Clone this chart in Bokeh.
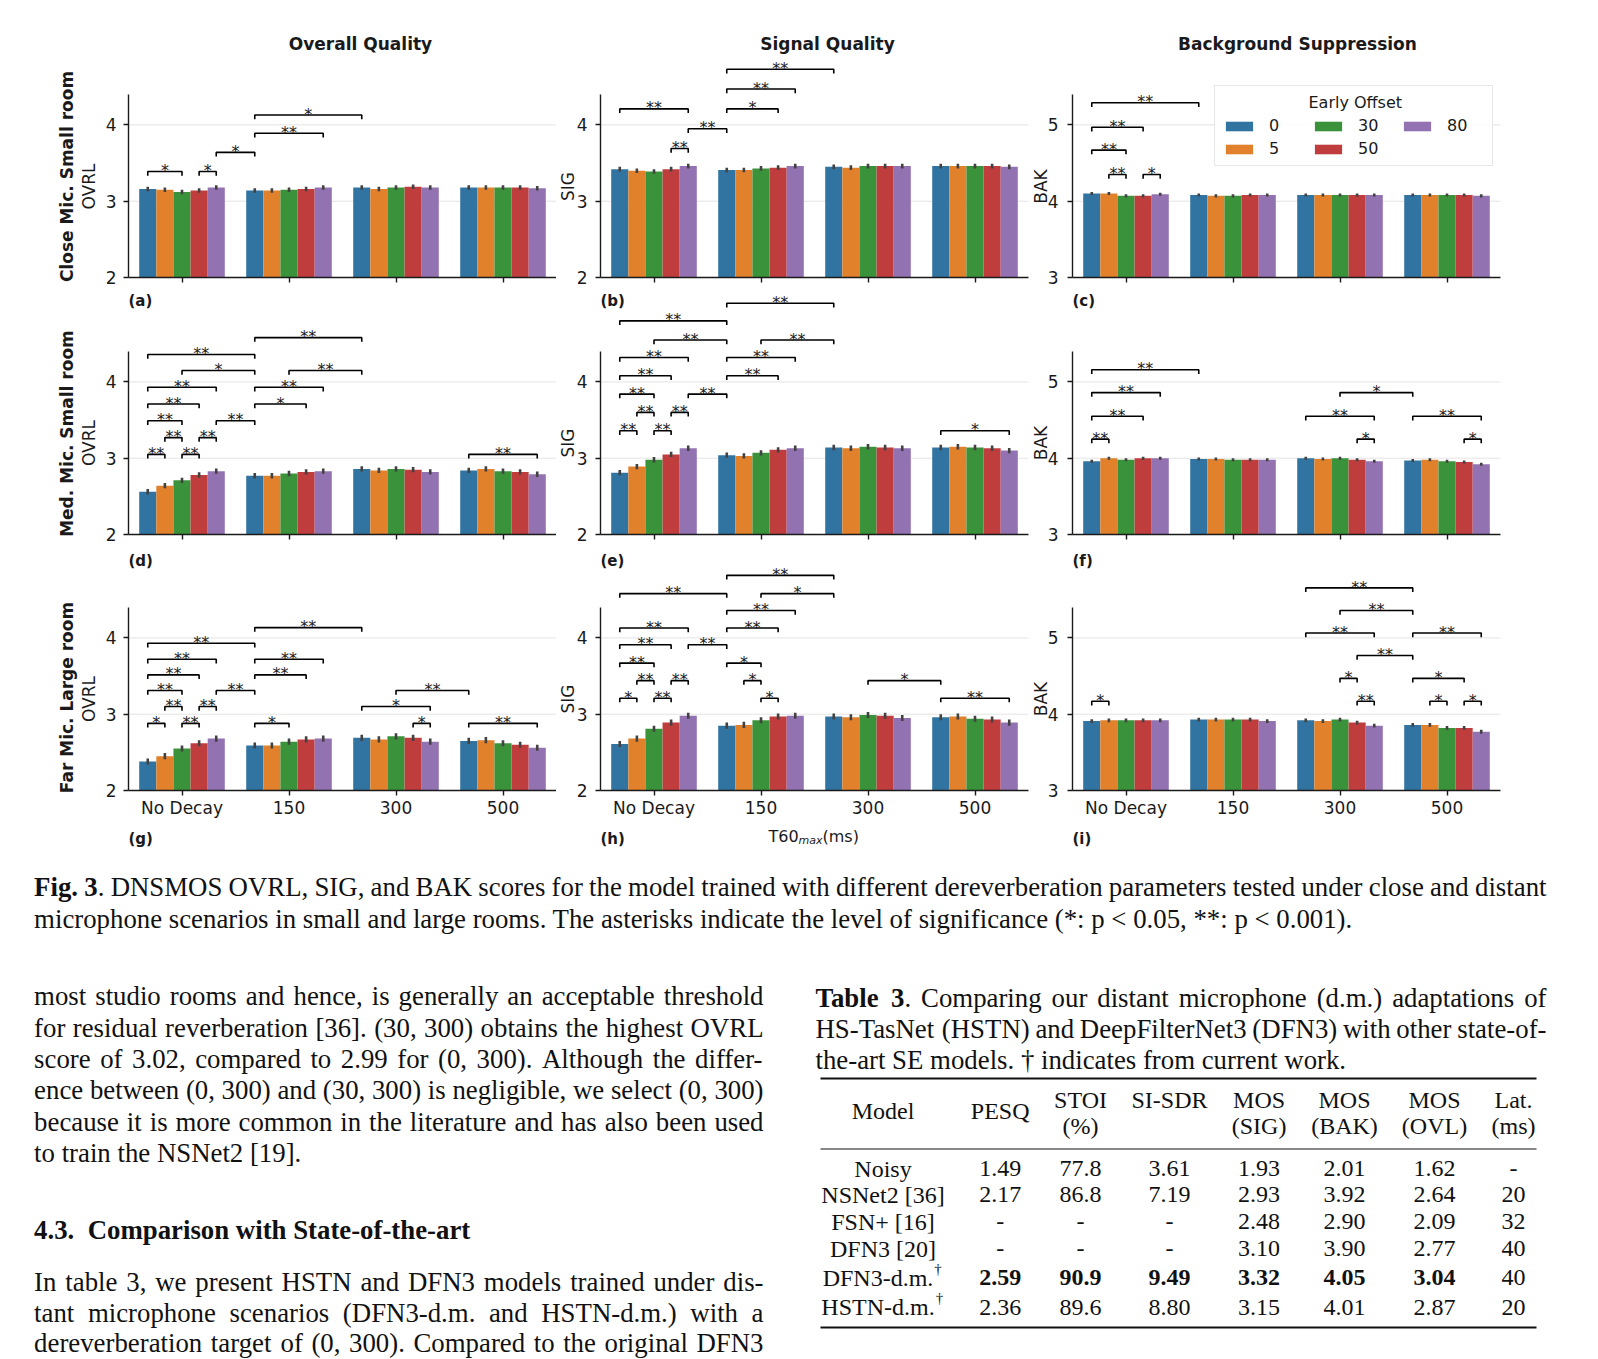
import math
from bokeh.plotting import figure
from bokeh.models import Range1d, FixedTicker, Legend, LegendItem, ColumnDataSource
from bokeh.layouts import column, row
from bokeh.embed import file_html
from bokeh.resources import INLINE
from bokeh.core.properties import value

# ------------------------------------------------------------------ data
T60_GROUPS = ["No Decay", "150", "300", "500"]
EARLY_OFFSETS = ["0", "5", "30", "50", "80"]
COLORS = ["#3274a1", "#e1812c", "#3a923a", "#c03d3e", "#9372b2"]

# mean scores: [T60 group][early offset]
OVRL_CLOSE = [[3.16, 3.15, 3.12, 3.14, 3.18], [3.14, 3.14, 3.15, 3.16, 3.18],
              [3.18, 3.16, 3.18, 3.19, 3.18], [3.18, 3.18, 3.18, 3.18, 3.17]]
SIG_CLOSE = [[3.42, 3.40, 3.39, 3.42, 3.46], [3.41, 3.41, 3.43, 3.44, 3.46],
             [3.45, 3.44, 3.46, 3.46, 3.46], [3.46, 3.46, 3.46, 3.46, 3.45]]
BAK_CLOSE = [[4.10, 4.10, 4.07, 4.07, 4.09], [4.08, 4.07, 4.07, 4.08, 4.08],
             [4.08, 4.08, 4.08, 4.08, 4.08], [4.08, 4.08, 4.08, 4.08, 4.07]]
OVRL_MED = [[2.56, 2.64, 2.71, 2.78, 2.83], [2.77, 2.77, 2.80, 2.82, 2.83],
            [2.86, 2.84, 2.86, 2.85, 2.82], [2.84, 2.86, 2.83, 2.82, 2.79]]
SIG_MED = [[2.81, 2.89, 2.98, 3.05, 3.13], [3.04, 3.03, 3.07, 3.11, 3.13],
           [3.14, 3.13, 3.15, 3.14, 3.13], [3.14, 3.15, 3.14, 3.13, 3.10]]
BAK_MED = [[3.96, 4.00, 3.98, 4.00, 4.00], [3.99, 3.99, 3.98, 3.98, 3.98],
           [4.00, 3.99, 4.00, 3.98, 3.96], [3.97, 3.98, 3.96, 3.95, 3.92]]
OVRL_FAR = [[2.38, 2.45, 2.55, 2.62, 2.68], [2.59, 2.59, 2.64, 2.67, 2.68],
            [2.69, 2.67, 2.71, 2.69, 2.64], [2.65, 2.66, 2.62, 2.60, 2.56]]
SIG_FAR = [[2.61, 2.68, 2.81, 2.89, 2.98], [2.85, 2.86, 2.92, 2.97, 2.98],
           [2.97, 2.96, 2.99, 2.98, 2.95], [2.96, 2.97, 2.94, 2.93, 2.89]]
BAK_FAR = [[3.91, 3.92, 3.92, 3.92, 3.92], [3.93, 3.93, 3.93, 3.93, 3.91],
           [3.92, 3.91, 3.93, 3.89, 3.85], [3.86, 3.86, 3.82, 3.82, 3.77]]

# half-length of the confidence-interval bars, per panel
CI_CLOSE = [0.030, 0.030, 0.020]
CI_MED = [0.035, 0.035, 0.020]
CI_FAR = [0.040, 0.040, 0.025]

# significance brackets: (group1, offset1, group2, offset2, height, label)
BR_OVRL_CLOSE = [(0, 0, 0, 2, 3.39, "*"), (0, 3, 0, 4, 3.39, "*"), (0, 4, 1, 0, 3.64, "*"),
                 (1, 0, 1, 4, 3.89, "**"), (1, 0, 2, 0, 4.13, "*")]
BR_SIG_CLOSE = [(0, 3, 0, 4, 3.69, "**"), (0, 4, 1, 0, 3.95, "**"), (0, 0, 0, 4, 4.21, "**"),
                (1, 0, 1, 3, 4.21, "*"), (1, 0, 1, 4, 4.47, "**"), (1, 0, 2, 0, 4.73, "**")]
BR_BAK_CLOSE = [(0, 1, 0, 2, 4.35, "**"), (0, 3, 0, 4, 4.35, "*"), (0, 0, 0, 2, 4.67, "**"),
                (0, 0, 0, 3, 4.97, "**"), (0, 0, 1, 0, 5.29, "**")]
BR_OVRL_MED = [(0, 0, 0, 1, 3.05, "**"), (0, 2, 0, 3, 3.05, "**"), (3, 0, 3, 4, 3.05, "**"),
               (0, 1, 0, 2, 3.27, "**"), (0, 3, 0, 4, 3.27, "**"),
               (0, 0, 0, 2, 3.49, "**"), (0, 4, 1, 0, 3.49, "**"),
               (0, 0, 0, 3, 3.71, "**"), (1, 0, 1, 3, 3.71, "*"),
               (0, 0, 0, 4, 3.93, "**"), (1, 0, 1, 4, 3.93, "**"),
               (0, 2, 1, 0, 4.15, "*"), (1, 2, 2, 0, 4.15, "**"),
               (0, 0, 1, 0, 4.36, "**"), (1, 0, 2, 0, 4.58, "**")]
BR_SIG_MED = [(0, 0, 0, 1, 3.36, "**"), (0, 2, 0, 3, 3.36, "**"), (3, 0, 3, 4, 3.36, "*"),
              (0, 1, 0, 2, 3.60, "**"), (0, 3, 0, 4, 3.60, "**"),
              (0, 0, 0, 2, 3.84, "**"), (0, 4, 1, 0, 3.84, "**"),
              (0, 0, 0, 3, 4.08, "**"), (1, 0, 1, 3, 4.08, "**"),
              (0, 0, 0, 4, 4.32, "**"), (1, 0, 1, 4, 4.32, "**"),
              (0, 2, 1, 0, 4.55, "**"), (1, 2, 2, 0, 4.55, "**"),
              (0, 0, 1, 0, 4.80, "**"), (1, 0, 2, 0, 5.03, "**")]
BR_BAK_MED = [(0, 0, 0, 1, 4.25, "**"), (2, 3, 2, 4, 4.25, "*"), (3, 3, 3, 4, 4.25, "*"),
              (0, 0, 0, 3, 4.55, "**"), (2, 0, 2, 4, 4.55, "**"), (3, 0, 3, 4, 4.55, "**"),
              (0, 0, 0, 4, 4.86, "**"), (2, 2, 3, 0, 4.86, "*"),
              (0, 0, 1, 0, 5.16, "**")]
BR_OVRL_FAR = [(0, 0, 0, 1, 2.88, "*"), (0, 2, 0, 3, 2.88, "**"), (1, 0, 1, 2, 2.88, "*"),
               (2, 3, 2, 4, 2.88, "*"), (3, 0, 3, 4, 2.88, "**"),
               (0, 1, 0, 2, 3.10, "**"), (0, 3, 0, 4, 3.10, "**"), (2, 0, 2, 4, 3.10, "*"),
               (0, 0, 0, 2, 3.31, "**"), (0, 4, 1, 0, 3.31, "**"), (2, 2, 3, 0, 3.31, "**"),
               (0, 0, 0, 3, 3.515, "**"), (1, 0, 1, 3, 3.515, "**"),
               (0, 0, 0, 4, 3.72, "**"), (1, 0, 1, 4, 3.72, "**"),
               (0, 0, 1, 0, 3.93, "**"), (1, 0, 2, 0, 4.135, "**")]
BR_SIG_FAR = [(0, 0, 0, 1, 3.21, "*"), (0, 2, 0, 3, 3.21, "**"), (1, 2, 1, 3, 3.21, "*"),
              (3, 0, 3, 4, 3.21, "**"),
              (0, 1, 0, 2, 3.44, "**"), (0, 3, 0, 4, 3.44, "**"), (1, 1, 1, 2, 3.44, "*"),
              (2, 2, 3, 0, 3.44, "*"),
              (0, 0, 0, 2, 3.67, "**"), (1, 0, 1, 2, 3.67, "*"),
              (0, 0, 0, 3, 3.91, "**"), (0, 4, 1, 0, 3.91, "**"),
              (0, 0, 0, 4, 4.13, "**"), (1, 0, 1, 3, 4.13, "**"),
              (1, 0, 1, 4, 4.36, "**"),
              (0, 0, 1, 0, 4.58, "**"), (1, 2, 2, 0, 4.58, "*"),
              (1, 0, 2, 0, 4.82, "**")]
BR_BAK_FAR = [(0, 0, 0, 1, 4.17, "*"), (2, 3, 2, 4, 4.17, "**"), (3, 1, 3, 2, 4.17, "*"),
              (3, 3, 3, 4, 4.17, "*"),
              (2, 2, 2, 3, 4.47, "*"), (3, 0, 3, 3, 4.47, "*"),
              (2, 3, 3, 0, 4.77, "**"),
              (2, 0, 2, 4, 5.065, "**"), (3, 0, 3, 4, 5.065, "**"),
              (2, 2, 3, 0, 5.36, "**"), (2, 0, 3, 0, 5.655, "**")]

COL_TITLES = ["Overall Quality", "Signal Quality", "Background Suppression"]
ROW_LABELS = ["Close Mic. Small room", "Med. Mic. Small room", "Far Mic. Large room"]
METRICS = ["OVRL", "SIG", "BAK"]
PANEL_TAGS = [["(a)", "(b)", "(c)"], ["(d)", "(e)", "(f)"], ["(g)", "(h)", "(i)"]]
LEGEND_TITLE = "Early Offset"

PANEL_DATA = [[(OVRL_CLOSE, BR_OVRL_CLOSE), (SIG_CLOSE, BR_SIG_CLOSE), (BAK_CLOSE, BR_BAK_CLOSE)],
              [(OVRL_MED, BR_OVRL_MED), (SIG_MED, BR_SIG_MED), (BAK_MED, BR_BAK_MED)],
              [(OVRL_FAR, BR_OVRL_FAR), (SIG_FAR, BR_SIG_FAR), (BAK_FAR, BR_BAK_FAR)]]
PANEL_CI = [CI_CLOSE, CI_MED, CI_FAR]

# ------------------------------------------------------------------ layout (page pixels)
PX = 76.3                       # pixels per score unit
GX = 107.0                      # pixels per T60 group
BANDS = [(0, 287, 277), (287, 545, 534), (545, 850, 790)]      # top, bottom, x-axis y
COLS = [(0, 128, 556), (556, 600, 1029), (1029, 1072, 1510)]   # figure left, y-axis x, figure right
AXLABEL_X = [88.5, 567, 1040]
AXLABEL_Y = [186, 442.5, 698.5]
ROWLABEL_X = 66
ROWLABEL_Y = [176, 433, 697]
TITLE_X = [360, 827, 1297]
TITLE_Y = 43
TAG_PLACES = [(0, 300, 1), (1, 560, 2), (2, 838, 2)]   # (tag row, page y, band drawn in)
FONT = "DejaVu Sans"
INK = "#1a1a1a"
BAR_W = 0.16


def bar_x(g, h):
    return g + (h - 2) * BAR_W


def make_panel(r, c):
    vals, brackets = PANEL_DATA[r][c]
    ci = PANEL_CI[r][c]
    top, bottom, axis_px = BANDS[r]
    fig_left, axis_x, fig_right = COLS[c]
    base = 3.0 if c == 2 else 2.0

    def ydat(page_y):
        return base + (axis_px - page_y) / PX

    def xdat(page_x):
        return -0.5 + (page_x - axis_x) / GX

    p = figure(width=fig_right - fig_left, height=bottom - top,
               x_range=Range1d(xdat(fig_left), xdat(fig_right)),
               y_range=Range1d(ydat(bottom), ydat(top)),
               output_backend="svg", toolbar_location=None, min_border=0)
    p.title.visible = False
    p.outline_line_color = None
    p.background_fill_color = "white"
    p.border_fill_color = "white"
    p.grid.visible = False

    # horizontal grid lines limited to the axes area
    p.segment(x0=[-0.5, -0.5], y0=[base + 1, base + 2], x1=[3.5, 3.5], y1=[base + 1, base + 2],
              line_color="#e4e4e4", line_width=1)

    xa = p.xaxis[0]
    xa.fixed_location = base
    xa.bounds = (-0.5, 3.5)
    xa.ticker = FixedTicker(ticks=[0, 1, 2, 3])
    xa.major_label_overrides = {i: (T60_GROUPS[i] if r == 2 else "") for i in range(4)}
    xa.major_label_text_font = FONT
    xa.major_label_text_font_size = "17px"
    xa.major_label_text_color = INK
    xa.major_label_standoff = 2
    xa.major_tick_out = 5
    xa.major_tick_in = 0
    xa.major_tick_line_width = 1.4
    xa.major_tick_line_color = INK
    xa.minor_tick_line_color = None
    xa.axis_line_width = 1.4
    xa.axis_line_color = INK

    ya = p.yaxis[0]
    ya.fixed_location = -0.5
    ya.ticker = FixedTicker(ticks=[base, base + 1, base + 2])
    ya.bounds = (base, base + 2.4)
    ya.major_label_text_font = FONT
    ya.major_label_text_font_size = "17px"
    ya.major_label_text_color = INK
    ya.major_label_standoff = [7, 8, 9][c]
    ya.major_tick_out = 5
    ya.major_tick_in = 0
    ya.major_tick_line_width = 1.4
    ya.major_tick_line_color = INK
    ya.minor_tick_line_color = None
    ya.axis_line_width = 1.4
    ya.axis_line_color = INK

    # metric label and row label
    p.text(x=[xdat(AXLABEL_X[c])], y=[ydat(AXLABEL_Y[r])], text=[METRICS[c]],
           angle=math.pi / 2, text_align="center", text_baseline="middle",
           text_font=value(FONT), text_font_size=value("17px"), text_color=INK)
    if c == 0:
        p.text(x=[xdat(ROWLABEL_X)], y=[ydat(ROWLABEL_Y[r])], text=[ROW_LABELS[r]],
               angle=math.pi / 2, text_align="center", text_baseline="middle",
               text_font=value(FONT), text_font_size=value("17px"), text_font_style="bold",
               text_color=INK)

    # bars + CI
    bar_renderers = []
    for h in range(5):
        xs = [bar_x(g, h) for g in range(4)]
        tops = [vals[g][h] for g in range(4)]
        src = ColumnDataSource(dict(x=xs, top=tops,
                                    lo=[t - ci for t in tops], hi=[t + ci for t in tops]))
        rr = p.vbar(x="x", top="top", bottom=base, width=BAR_W, source=src,
                    fill_color=COLORS[h], line_color=None)
        bar_renderers.append(rr)
        p.segment(x0="x", y0="lo", x1="x", y1="hi", source=src,
                  line_color="#424242", line_width=2.6)

    # significance brackets
    leg = 0.055
    bxs, bys, tx, ty, tt = [], [], [], [], []
    for (g1, h1, g2, h2, yy, lab) in brackets:
        x1, x2 = bar_x(g1, h1), bar_x(g2, h2)
        bxs.append([x1, x1, x2, x2])
        bys.append([yy - leg, yy, yy, yy - leg])
        tx.append((x1 + x2) / 2)
        ty.append(yy + 0.012)
        tt.append(lab)
    p.multi_line(xs=bxs, ys=bys, line_color="black", line_width=1.6)
    p.text(x=tx, y=ty, text=tt, text_align="center", text_baseline="alphabetic",
           text_font=value(FONT), text_font_size=value("16px"), text_color=INK)

    if r == 0:
        p.text(x=[xdat(TITLE_X[c])], y=[ydat(TITLE_Y)], text=[COL_TITLES[c]], text_align="center",
               text_baseline="middle", text_font=value(FONT), text_font_size=value("17px"),
               text_font_style="bold", text_color=INK)

    for tag_row, yy, band in TAG_PLACES:
        if band == r:
            p.text(x=[-0.5], y=[ydat(yy)], text=[PANEL_TAGS[tag_row][c]], text_align="left",
                   text_baseline="middle", text_font=value(FONT), text_font_size=value("15px"),
                   text_font_style="bold", text_color=INK)

    if r == 2 and c == 1:
        p.text(x=[xdat(768)], y=[ydat(836)], text=["T60"], text_align="left",
               text_baseline="alphabetic", text_font=value(FONT), text_font_size=value("16px"),
               text_color=INK)
        p.text(x=[xdat(798)], y=[ydat(840)], text=["max"], text_align="left",
               text_baseline="alphabetic", text_font=value(FONT), text_font_size=value("11px"),
               text_font_style="italic", text_color=INK)
        p.text(x=[xdat(822)], y=[ydat(836)], text=["(ms)"], text_align="left",
               text_baseline="alphabetic", text_font=value(FONT), text_font_size=value("16px"),
               text_color=INK)

    if r == 0 and c == 2:
        items = [LegendItem(label=value(EARLY_OFFSETS[h]), renderers=[bar_renderers[h]])
                 for h in range(5)]
        # leading no-break spaces centre the title over the three columns
        lg = Legend(items=items, location=(1214 - fig_left, 121), ncols=3,
                    title="\u00a0" * 17 + LEGEND_TITLE,
                    title_text_font=FONT, title_text_font_size="16px",
                    title_text_font_style="normal", title_text_color=INK, title_standoff=4,
                    label_text_font=FONT, label_text_font_size="16px", label_text_color=INK,
                    glyph_width=34, glyph_height=12, label_standoff=13, label_width=38,
                    spacing=4, padding=7, margin=0,
                    border_line_color="#d0d0d0", border_line_width=1,
                    background_fill_color="white", background_fill_alpha=0.85)
        p.add_layout(lg)
    return p


rows = []
for r in range(3):
    rows.append(row(*[make_panel(r, c) for c in range(3)]))

# ------------------------------------------------------------------ paper text below the figure
CAPTION_L1 = [("Fig. 3", "bold"), (". DNSMOS OVRL, SIG, and BAK scores for the model trained with different dereverberation parameters tested under close and distant", "normal")]
CAPTION_L2 = "microphone scenarios in small and large rooms. The asterisks indicate the level of significance (*: p < 0.05, **: p < 0.001)."
BODY_LEFT_A = [
    "most studio rooms and hence, is generally an acceptable threshold",
    "for residual reverberation [36]. (30, 300) obtains the highest OVRL",
    "score of 3.02, compared to 2.99 for (0, 300). Although the differ-",
    "ence between (0, 300) and (30, 300) is negligible, we select (0, 300)",
    "because it is more common in the literature and has also been used",
]
BODY_LEFT_A_LAST = "to train the NSNet2 [19]."
SECTION_HEAD = "4.3.\u2002Comparison with State-of-the-art"
BODY_LEFT_B = [
    "In table 3, we present HSTN and DFN3 models trained under dis-",
    "tant microphone scenarios (DFN3-d.m. and HSTN-d.m.) with a",
    "dereverberation target of (0, 300). Compared to the original DFN3",
]
TABLE_CAP_L1 = [("Table 3", "bold"), (". Comparing our distant microphone (d.m.) adaptations of", "normal")]
TABLE_CAP_L2 = "HS-TasNet (HSTN) and DeepFilterNet3 (DFN3) with other state-of-"
TABLE_CAP_L3 = "the-art SE models. \u2020 indicates from current work."
TABLE_HEAD_TOP = ["STOI", "SI-SDR", "MOS", "MOS", "MOS", "Lat."]
TABLE_HEAD_BOTTOM = ["(%)", "", "(SIG)", "(BAK)", "(OVL)", "(ms)"]
TABLE_HEAD_SINGLE = ["Model", "PESQ"]
TABLE_MODELS = ["Noisy", "NSNet2 [36]", "FSN+ [16]", "DFN3 [20]", "DFN3-d.m.", "HSTN-d.m."]
TABLE_DAGGER = [False, False, False, False, True, True]
PESQ = ["1.49", "2.17", "-", "-", "2.59", "2.36"]
STOI = ["77.8", "86.8", "-", "-", "90.9", "89.6"]
SI_SDR = ["3.61", "7.19", "-", "-", "9.49", "8.80"]
MOS_SIG = ["1.93", "2.93", "2.48", "3.10", "3.32", "3.15"]
MOS_BAK = ["2.01", "3.92", "2.90", "3.90", "4.05", "4.01"]
MOS_OVL = ["1.62", "2.64", "2.09", "2.77", "3.04", "2.87"]
LATENCY = ["-", "20", "32", "40", "40", "20"]
BEST_ROW = 4

# Times / Liberation Serif advance widths (per 1000 em) used to justify lines
TIMES_W = {' ': 250, '(': 333, ')': 333, '*': 500, '+': 564, ',': 250, '-': 333, '.': 250,
           ':': 278, '<': 564, '[': 333, ']': 333, '%': 833, '\u2020': 500,
           'A': 722, 'B': 667, 'C': 667, 'D': 722, 'E': 611, 'F': 556, 'G': 722, 'H': 722,
           'I': 333, 'J': 389, 'K': 722, 'L': 611, 'M': 889, 'N': 722, 'O': 722, 'P': 556,
           'Q': 722, 'R': 667, 'S': 556, 'T': 611, 'U': 722, 'V': 722, 'W': 944, 'X': 722,
           'Y': 722, 'Z': 611, 'a': 444, 'b': 500, 'c': 444, 'd': 500, 'e': 444, 'f': 333,
           'g': 500, 'h': 500, 'i': 278, 'j': 278, 'k': 500, 'l': 278, 'm': 778, 'n': 500,
           'o': 500, 'p': 500, 'q': 500, 'r': 333, 's': 389, 't': 278, 'u': 500, 'v': 500,
           'w': 722, 'x': 500, 'y': 500, 'z': 444}
TIMES_BOLD_W = {'F': 611, 'i': 278, 'g': 500, '.': 250, ' ': 250, '3': 500, 'T': 667,
                'a': 500, 'b': 556, 'l': 278, 'e': 444}

TXT_TOP = 850
TXT_W, TXT_H = 1590, 509
SERIF = "Liberation Serif"
TXT_INK = "#111111"
BODY_PX = 26.8

pt = figure(width=TXT_W, height=TXT_H, x_range=Range1d(0, TXT_W), y_range=Range1d(TXT_H, 0),
            x_axis_type=None, y_axis_type=None, output_backend="svg", toolbar_location=None,
            min_border=0)
pt.title.visible = False
pt.outline_line_color = None
pt.grid.visible = False

_batches = {}


def put(xs, page_ys, texts, size, style="normal", align="left"):
    key = (size, style, align)
    b = _batches.setdefault(key, ([], [], []))
    b[0].extend(xs)
    b[1].extend([y - TXT_TOP for y in page_ys])
    b[2].extend(texts)


def tw(s, style, size):
    tbl = TIMES_BOLD_W if style == "bold" else TIMES_W
    return sum(tbl.get(ch, 500) for ch in s) * size / 1000.0


def justify(runs, left, right, page_y, size):
    words, cur = [], []
    for s, st in runs:
        for k, part in enumerate(s.split(" ")):
            if k > 0 and cur:
                words.append(cur)
                cur = []
            if part:
                cur.append((part, st))
    if cur:
        words.append(cur)
    widths = [sum(tw(pc, st, size) for pc, st in w) for w in words]
    gap = (right - left - sum(widths)) / max(1, len(words) - 1)
    x = left
    for w, ww in zip(words, widths):
        xx = x
        for pc, st in w:
            put([xx], [page_y], [pc], "%.1fpx" % size, st)
            xx += tw(pc, st, size)
        x += ww + gap


LEFT_X, LEFT_R = 33.6, 763
RIGHT_X, RIGHT_R = 815, 1546
FS = "%.1fpx" % BODY_PX

justify(CAPTION_L1, LEFT_X, 1546, 886.6, BODY_PX)
put([LEFT_X], [918.2], [CAPTION_L2], FS)
for line, yy in zip(BODY_LEFT_A, [995.7, 1027.3, 1058.9, 1089.4, 1121.0]):
    justify([(line, "normal")], LEFT_X, LEFT_R, yy, BODY_PX)
put([LEFT_X], [1152.6], [BODY_LEFT_A_LAST], FS)
put([LEFT_X], [1229], [SECTION_HEAD], FS, "bold")
for line, yy in zip(BODY_LEFT_B, [1281, 1312.6, 1342]):
    justify([(line, "normal")], LEFT_X, LEFT_R, yy, BODY_PX)
justify(TABLE_CAP_L1, RIGHT_X, RIGHT_R, 997.7, BODY_PX)
justify([(TABLE_CAP_L2, "normal")], RIGHT_X, RIGHT_R, 1028.3, BODY_PX)
put([RIGHT_X], [1059.9], [TABLE_CAP_L3], FS)

COLX = [882.5, 999.7, 1080, 1169, 1258.6, 1344, 1434, 1513]
ROWY = [1168, 1194.4, 1221, 1248.4, 1277, 1306.5]
put(COLX[:2], [1110.8, 1110.8], TABLE_HEAD_SINGLE, "24px", align="center")
put(COLX[2:], [1099.6] * 6, TABLE_HEAD_TOP, "24px", align="center")
hb = [(x, t) for x, t in zip(COLX[2:], TABLE_HEAD_BOTTOM) if t]
put([x for x, _ in hb], [1125] * len(hb), [t for _, t in hb], "24px", align="center")
cols = [PESQ, STOI, SI_SDR, MOS_SIG, MOS_BAK, MOS_OVL]
for i, name in enumerate(TABLE_MODELS):
    cx = COLX[0] - 5 if TABLE_DAGGER[i] else COLX[0]
    put([cx], [ROWY[i]], [name], "24px", align="center")
    if TABLE_DAGGER[i]:
        put([cx + tw(name, "normal", 24) / 2 + 1], [ROWY[i] - 9], ["\u2020"], "15px")
    for j, col in enumerate(cols):
        put([COLX[j + 1]], [ROWY[i]], [col[i]], "24px",
            "bold" if i == BEST_ROW else "normal", align="center")
    put([COLX[7]], [ROWY[i]], [LATENCY[i]], "24px", align="center")

for (size, style, align), (xs, ys, texts) in _batches.items():
    pt.text(x=xs, y=ys, text=texts, text_font=value(SERIF), text_font_size=value(size),
            text_font_style=style, text_align=align, text_baseline="middle",
            text_color=TXT_INK)

RULES_Y = [1078, 1148.5, 1327]
RULES_W = [2.0, 1.1, 2.0]
for yy, lw in zip(RULES_Y, RULES_W):
    pt.segment(x0=[820], y0=[yy - TXT_TOP], x1=[1536], y1=[yy - TXT_TOP],
               line_color=TXT_INK, line_width=lw)

layout = column(*rows, pt)
open("out.html", "w").write(file_html(layout, INLINE))
